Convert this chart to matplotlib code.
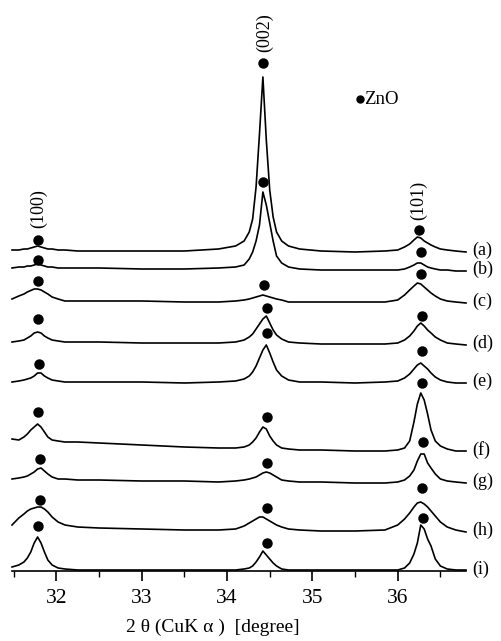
import matplotlib
matplotlib.use("Agg")
import matplotlib.pyplot as plt
import numpy as np

plt.rcParams['font.family'] = ['Liberation Serif', 'DejaVu Serif']

# 2theta grid (degree) shared by all traces
two_theta = [31.48, 31.56, 31.62, 31.66, 31.70, 31.74, 31.78, 31.82, 31.86, 31.90,
             31.95, 32.02, 32.10, 32.25, 32.5, 33.0, 33.5, 33.9,
             34.10, 34.20, 34.26, 34.30, 34.34, 34.38, 34.42, 34.46, 34.50, 34.54,
             34.58, 34.64, 34.72, 34.85, 35.1, 35.5, 35.85,
             36.00, 36.08, 36.14, 36.19, 36.23, 36.27, 36.31, 36.35, 36.39, 36.44,
             36.50, 36.58, 36.68, 36.80]

# intensities (arb. units) above each trace's own baseline
int_a = [2, 2, 3, 3, 4, 5, 6, 5, 4, 3, 3, 2, 2, 1, 1, 1, 1, 3,
         6, 11, 20, 33, 65, 118, 175, 112, 62, 35, 20, 11, 6, 3, 1, 0, 1,
         2, 5, 8, 12, 15, 14, 11, 9, 7, 5, 3, 2, 1, 0]
int_b = [3, 4, 4, 5, 5, 6, 7, 6, 5, 4, 4, 3, 3, 3, 3, 2, 2, 3,
         4, 6, 12, 19, 30, 46, 79, 66, 48, 30, 15, 8, 4, 2, 1, 1, 1,
         1, 2, 4, 6, 8, 8, 6, 4, 3, 2, 1, 1, 0, 0]
int_c = [4, 7, 9, 11, 12.5, 14, 14, 13, 11, 9, 6, 4, 2, 2, 2, 2, 1, 1,
         2, 3, 4, 5, 6, 7, 8, 7, 6, 5, 4, 3, 1, 1, 1, 1, 1,
         3, 8, 13, 17, 20, 19, 16, 13, 10, 7, 4, 2, 1, 0]
int_d = [3, 4, 5, 7, 9, 12, 13, 12, 9, 7, 5, 4, 3, 3, 3, 2, 2, 2,
         3, 5, 8, 11, 16, 21, 26, 29, 22, 15, 10, 6, 3, 2, 1, 1, 1,
         2, 5, 9, 14, 19, 22, 19, 15, 12, 8, 5, 2, 1, 0]
int_e = [1, 2, 3, 4, 5, 7, 10, 10, 7, 5, 3, 2, 1, 1, 1, 1, 0, 1,
         2, 4, 7, 11, 17, 25, 33, 38, 30, 21, 13, 7, 3, 1, 1, 0, 1,
         2, 5, 9, 14, 18, 20, 17, 14, 10, 6, 3, 1, 0, 0]
int_f = [13, 12, 15, 18, 22, 25, 28, 25, 20, 15, 12, 11, 10, 10, 9, 7, 5, 4,
         4, 5, 7, 10, 14, 20, 25, 23, 16, 11, 7, 4, 3, 2, 2, 1, 1,
         2, 4, 11, 30, 48, 59, 52, 38, 22, 11, 6, 3, 1, 1]
int_g = [4, 5, 6, 7, 9, 11, 14, 15, 12, 9, 6, 4, 4, 3, 3, 2, 2, 1,
         2, 3, 4, 5, 6, 8, 10, 11, 10, 8, 6, 3, 2, 1, 1, 0, 0,
         1, 3, 7, 13, 22, 29, 29, 20, 15, 9, 4, 2, 1, 0]
int_h = [7, 14, 18, 21, 23, 24, 25, 25, 23, 20, 15, 10, 7, 5, 4, 3, 2, 2,
         3, 6, 9, 11, 13, 15, 15, 13, 11, 9, 7, 5, 3, 2, 1, 1, 2,
         7, 13, 19, 25, 29, 30, 28, 25, 21, 16, 10, 5, 2, 0]
int_i = [4, 6, 9, 13, 19, 28, 34, 28, 19, 11, 6, 3, 2, 1, 1, 1, 1, 1,
         1, 2, 3, 5, 9, 14, 20, 16, 12, 8, 5, 2, 1, 1, 1, 1, 1,
         1, 3, 8, 17, 28, 46, 42, 32, 25, 12, 5, 2, 1, 1]

labels = ['(a)', '(b)', '(c)', '(d)', '(e)', '(f)', '(g)', '(h)', '(i)']
traces = [int_a, int_b, int_c, int_d, int_e, int_f, int_g, int_h, int_i]
offsets = [319, 300, 268, 226, 188, 119, 88, 39, 0]

# ZnO marker positions (2theta) and heights above baseline for each trace
dot_x = [[31.79, 34.42, 36.25], [31.79, 34.42, 36.27], [31.79, 34.43, 36.27],
         [31.79, 34.47, 36.29], [31.80, 34.47, 36.29], [31.79, 34.47, 36.28],
         [31.81, 34.47, 36.30], [31.81, 34.47, 36.29], [31.79, 34.47, 36.30]]
dot_y = [[12, 189, 22], [11, 89, 19], [22, 18, 29],
         [26, 37, 29], [19, 50, 32], [40, 35, 69],
         [24, 20, 41], [32, 24, 44], [45, 28, 53]]

W, H = 501, 641
fig = plt.figure(figsize=(W / 100, H / 100), dpi=100)
ax = fig.add_axes([12 / W, (H - 571) / H, 454 / W, 571 / H])

x = np.array(two_theta)
for lab, tr, off, dx, dy in zip(labels, traces, offsets, dot_x, dot_y):
    ax.plot(x, np.array(tr) + off, color='black', lw=1.2, clip_on=False)
    ax.plot(dx, np.array(dy) + off, 'o', color='black', ms=6.5, clip_on=False)
    ax.text(36.87, off + 2, lab, fontsize=13, va='center', ha='left', clip_on=False)

ax.text(31.79, 362, '(100)', rotation=90, fontsize=13, ha='center', va='center')
ax.text(34.435, 538, '(002)', rotation=90, fontsize=13, ha='center', va='center')
ax.text(36.25, 371, '(101)', rotation=90, fontsize=13, ha='center', va='center')
ax.plot([35.56], [472], 'o', color='black', ms=5, clip_on=False)
ax.text(35.61, 472, 'ZnO', fontsize=13.5, ha='left', va='center')

ax.set_xlim(31.48, 36.80)
ax.set_ylim(0, 571)
for s in ['left', 'right', 'top']:
    ax.spines[s].set_visible(False)
ax.spines['bottom'].set_linewidth(1.2)
ax.set_yticks([])
ax.set_xticks([32, 33, 34, 35, 36])
ax.set_xticks(np.arange(31.5, 36.8, 0.5), minor=True)
ax.tick_params(axis='x', which='major', direction='out', length=7, width=1.2,
               labelsize=15.5, pad=6)
ax.tick_params(axis='x', which='minor', direction='out', length=4.5, width=1.0)
ax.set_xlabel('2 θ (CuK α )  [degree]', fontsize=14, labelpad=8, x=0.443)

fig.savefig('out.png', dpi=100)
